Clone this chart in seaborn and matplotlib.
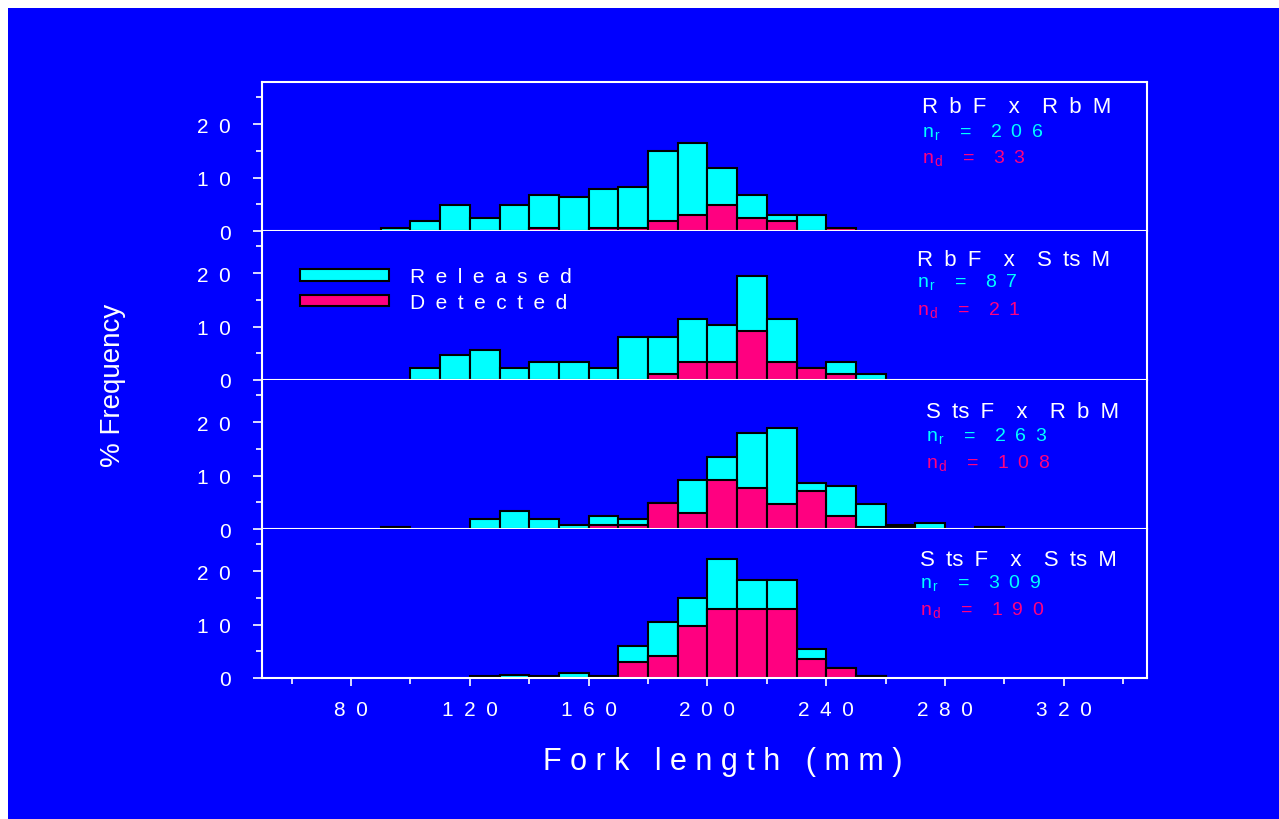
import numpy as np
import pandas as pd
import seaborn as sns
import matplotlib
matplotlib.use("Agg")
import matplotlib.pyplot as plt
from matplotlib.patches import Patch, Rectangle
from matplotlib.ticker import FixedLocator, FixedFormatter, NullFormatter

# ---------------- data ----------------
bin_starts = [90, 100, 110, 120, 130, 140, 150, 160, 170, 180, 190,
              200, 210, 220, 230, 240, 250, 260, 270, 280, 290]
bin_width = 10

crosses = ["R b F  x  R b M", "R b F  x  S ts M", "S ts F  x  R b M", "S ts F  x  S ts M"]
n_released = ["2 0 6", "8 7", "2 6 3", "3 0 9"]
n_detected = ["3 3", "2 1", "1 0 8", "1 9 0"]

rbf_rbm_released = [0.5, 1.9, 4.9, 2.4, 4.9, 6.8, 6.4, 7.9, 8.3, 15.0, 16.5,
                    11.8, 6.8, 3.0, 3.0, 0, 0, 0, 0, 0, 0]
rbf_rbm_detected = [0, 0, 0, 0, 0, 0.5, 0, 0.5, 0.5, 1.9, 3.0,
                    4.9, 2.4, 1.9, 0, 0.5, 0, 0, 0, 0, 0]

rbf_stsm_released = [0, 2.3, 4.6, 5.7, 2.3, 3.4, 3.4, 2.3, 8.0, 8.0, 11.5,
                     10.3, 19.5, 11.5, 2.3, 3.4, 1.2, 0, 0, 0, 0]
rbf_stsm_detected = [0, 0, 0, 0, 0, 0, 0, 0, 0, 1.2, 3.4,
                     3.4, 9.2, 3.4, 2.3, 1.2, 0, 0, 0, 0, 0]

stsf_rbm_released = [0.4, 0, 0, 1.9, 3.4, 1.9, 0.8, 2.4, 1.9, 4.9, 9.1,
                     13.4, 17.9, 19.0, 8.7, 8.0, 4.6, 0.8, 1.1, 0, 0.4]
stsf_rbm_detected = [0, 0, 0, 0, 0, 0, 0, 0.8, 0.8, 4.9, 3.0,
                     9.1, 7.6, 4.6, 7.2, 2.4, 0.4, 0.4, 0, 0, 0]

stsf_stsm_released = [0, 0, 0, 0.4, 0.6, 0.4, 1.0, 0.4, 5.9, 10.4, 14.9,
                      22.3, 18.4, 18.4, 5.5, 1.9, 0.4, 0, 0, 0, 0]
stsf_stsm_detected = [0, 0, 0, 0, 0, 0, 0, 0, 3.0, 4.2, 9.7,
                      12.9, 12.9, 12.9, 3.6, 1.9, 0.4, 0, 0, 0, 0]

released_sets = [rbf_rbm_released, rbf_stsm_released, stsf_rbm_released, stsf_stsm_released]
detected_sets = [rbf_rbm_detected, rbf_stsm_detected, stsf_rbm_detected, stsf_stsm_detected]

x_tick_values = [80, 120, 160, 200, 240, 280, 320]
x_tick_labels = ["8 0", "1 2 0", "1 6 0", "2 0 0", "2 4 0", "2 8 0", "3 2 0"]
y_tick_values = [0, 10, 20]
y_tick_labels = ["0", "1 0", "2 0"]
legend_labels = ["R e l e a s e d", "D e t e c t e d"]


def track(s):
    """Wide letter spacing as in the original: each space becomes an en space."""
    return s.replace(" ", "\u2002")


# ---------------- style ----------------
BLUE = "#0000FF"
CYAN = "#00FFFF"
PINK = "#FF0080"
WHITE = "#FFFFFF"

sns.set_theme(style="ticks")
plt.rcParams["font.family"] = ["Liberation Sans", "DejaVu Sans"]
plt.rcParams["mathtext.fontset"] = "custom"
plt.rcParams["mathtext.rm"] = "Liberation Sans"
plt.rcParams["mathtext.it"] = "Liberation Sans"

W, H = 1279, 820
fig = plt.figure(figsize=(W / 100, H / 100), dpi=100, facecolor="white")
fig.patches.append(Rectangle((8 / W, 0), 1 - 8 / W, 1 - 9 / H, transform=fig.transFigure,
                             facecolor=BLUE, edgecolor="none", zorder=-10))

left_px, right_px = 262, 1147
panel_bottoms = [232, 381, 530, 679]
panel_h = 149
text_x = [0.746, 0.740, 0.750, 0.744]
text_y = [(0.797, 0.640, 0.461), (0.772, 0.629, 0.443),
          (0.750, 0.599, 0.418), (0.758, 0.609, 0.430)]

edges = bin_starts + [bin_starts[-1] + bin_width]
centers = [b + bin_width / 2 for b in bin_starts]

axes = []
for i in range(4):
    yb = panel_bottoms[i]
    ax = fig.add_axes([left_px / W, 1 - yb / H, (right_px - left_px) / W, panel_h / H])
    ax.set_facecolor(BLUE)
    axes.append(ax)

    df = pd.DataFrame({"length": centers,
                       "released": released_sets[i],
                       "detected": detected_sets[i]})
    sns.histplot(data=df, x="length", weights="released", bins=edges, ax=ax,
                 color=CYAN, alpha=1, edgecolor="black", linewidth=1.5, stat="count")
    sns.histplot(data=df, x="length", weights="detected", bins=edges, ax=ax,
                 color=PINK, alpha=1, edgecolor="black", linewidth=1.5, stat="count")
    for p in ax.patches:
        if p.get_height() <= 0:
            p.set_visible(False)

    ax.set_xlim(50, 348)
    ax.set_ylim(0, 27.9)
    ax.set_xlabel("")
    ax.set_ylabel("")

    for s in ["left", "right", "bottom", "top"]:
        ax.spines[s].set_color(WHITE)
        ax.spines[s].set_linewidth(1.5)
    ax.spines["top"].set_visible(i == 0)

    ax.yaxis.set_major_locator(FixedLocator(y_tick_values))
    ax.yaxis.set_major_formatter(FixedFormatter([track(t) for t in y_tick_labels]))
    ax.yaxis.set_minor_locator(FixedLocator([5, 15, 25]))
    ax.tick_params(axis="y", which="major", direction="out", length=6.5, width=1.2,
                   color=WHITE, labelcolor=WHITE, labelsize=15, pad=16)
    ax.tick_params(axis="y", which="minor", direction="out", length=4.3, width=1.2, color=WHITE)

    if i < 3:
        ax.xaxis.set_major_locator(FixedLocator(list(range(60, 341, 20))))
        ax.xaxis.set_minor_locator(FixedLocator(list(range(70, 341, 20))))
        ax.xaxis.set_major_formatter(NullFormatter())
        ax.tick_params(axis="x", which="major", direction="out", length=5.5, width=1.2, color=WHITE)
        ax.tick_params(axis="x", which="minor", direction="out", length=3.5, width=1.2, color=WHITE)
    else:
        ax.xaxis.set_major_locator(FixedLocator(x_tick_values))
        ax.xaxis.set_major_formatter(FixedFormatter([track(t) for t in x_tick_labels]))
        ax.xaxis.set_minor_locator(FixedLocator(list(range(60, 341, 40))))
        ax.tick_params(axis="x", which="major", direction="out", length=5.5, width=1.2,
                       color=WHITE, labelcolor=WHITE, labelsize=15, pad=10)
        ax.tick_params(axis="x", which="minor", direction="out", length=4, width=1.2, color=WHITE)
        ax.set_xlabel("F o r k   l e n g t h   ( m m )", color=WHITE, fontsize=22, labelpad=20)
        ax.xaxis.label.set_x((723 - left_px) / (right_px - left_px))

    tx = text_x[i]
    ty = text_y[i]
    ax.text(tx, ty[0], track(crosses[i]), transform=ax.transAxes, color=WHITE, fontsize=16,
            ha="left", va="baseline")
    ax.text(tx, ty[1], r"n$_{\,\mathrm{r}}$" + track("  =  " + n_released[i]), transform=ax.transAxes,
            color=CYAN, fontsize=14, ha="left", va="baseline")
    ax.text(tx, ty[2], r"n$_{\,\mathrm{d}}$" + track("  =  " + n_detected[i]), transform=ax.transAxes,
            color=PINK, fontsize=14, ha="left", va="baseline")

# legend in second panel
handles = [Patch(facecolor=CYAN, edgecolor="black", linewidth=1.5),
           Patch(facecolor=PINK, edgecolor="black", linewidth=1.5)]
leg = axes[1].legend(handles, [track(t) for t in legend_labels], loc="upper left",
                     bbox_to_anchor=(0.043, 0.757), frameon=False, fontsize=15,
                     handlelength=4.25, handleheight=0.48, handletextpad=1.05,
                     labelspacing=0.32, borderpad=0, borderaxespad=0)
for t in leg.get_texts():
    t.set_color(WHITE)

fig.text(113 / W, 1 - 385 / H, "% Frequency", rotation=90, color=WHITE, fontsize=20,
         ha="center", va="center")

fig.savefig("out.png", dpi=100, facecolor=fig.get_facecolor())
